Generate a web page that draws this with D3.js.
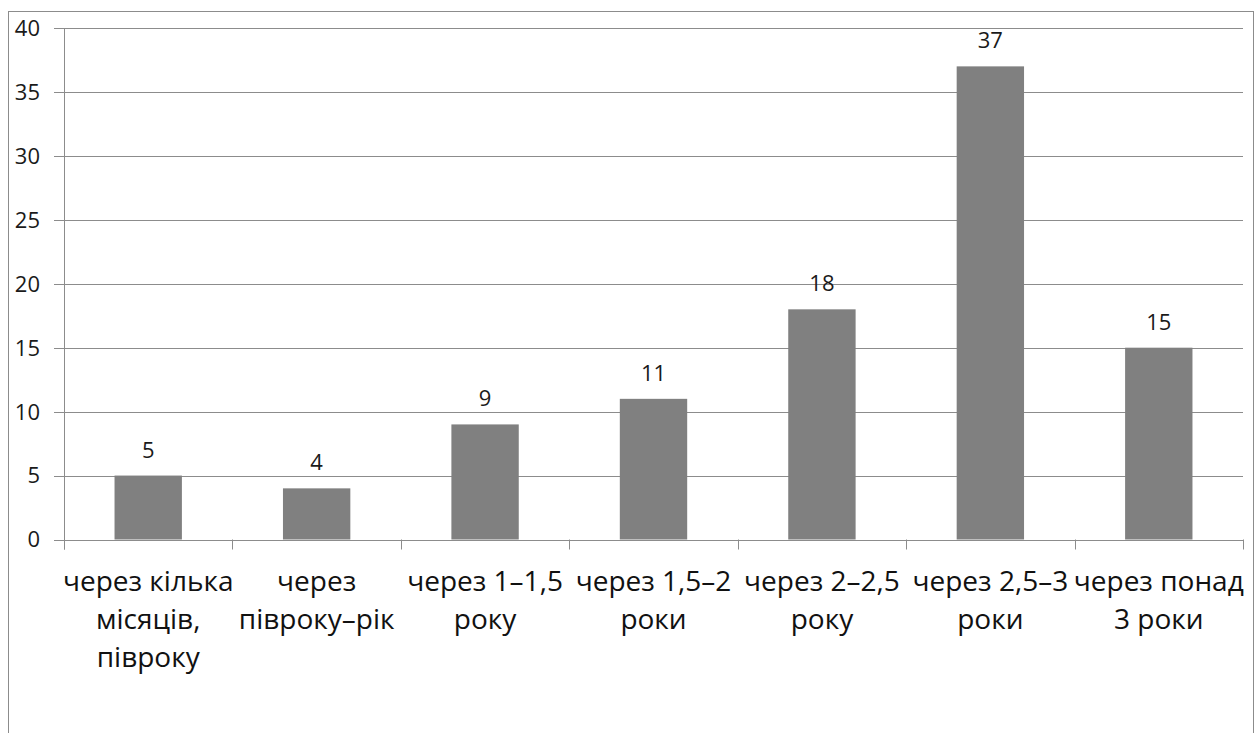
<!DOCTYPE html>
<html><head><meta charset="utf-8">
<script src="https://cdn.jsdelivr.net/npm/d3@7"></script>
<style>body{margin:0;background:#fff}svg{display:block}</style>
</head><body>
<script>
const categories = [
  ["через кілька", "місяців,", "півроку"],
  ["через", "півроку–рік"],
  ["через 1–1,5", "року"],
  ["через 1,5–2", "роки"],
  ["через 2–2,5", "року"],
  ["через 2,5–3", "роки"],
  ["через понад", "3 роки"]
];
const values = [5, 4, 9, 11, 18, 37, 15];
const yTicks = [0, 5, 10, 15, 20, 25, 30, 35, 40];

const W = 1258, H = 733;
const m = {left: 64, right: 15, top: 28, bottom: 193.5};
const font = "'Open Sans', 'DejaVu Sans', sans-serif";

const svg = d3.select("body").append("svg").attr("width", W).attr("height", H);
svg.append("rect").attr("x", 8.5).attr("y", 11.5).attr("width", 1245).attr("height", 740)
  .attr("fill", "#fff").attr("stroke", "#8c8c8c").attr("stroke-width", 1);

const x = d3.scaleBand().domain(d3.range(values.length)).range([m.left, W - m.right]).paddingInner(0.6).paddingOuter(0.3);
const y = d3.scaleLinear().domain([0, 40]).range([H - m.bottom, m.top]);

// gridlines
svg.append("g").selectAll("line").data(yTicks).join("line")
  .attr("x1", m.left - 10).attr("x2", W - m.right)
  .attr("y1", d => Math.round(y(d)) + 0.5).attr("y2", d => Math.round(y(d)) + 0.5)
  .attr("stroke", "#8c8c8c").attr("stroke-width", 1);

// y tick labels
svg.append("g").selectAll("text").data(yTicks).join("text")
  .attr("x", 40).attr("y", d => y(d)).attr("dy", "0.36em").attr("text-anchor", "end")
  .attr("font-family", font).attr("font-size", 22).attr("fill", "#1a1a1a").text(d => d);

// bars
svg.append("g").selectAll("rect").data(values).join("rect")
  .attr("x", (d, i) => x(i)).attr("width", x.bandwidth())
  .attr("y", d => y(d)).attr("height", d => y(0) - y(d)).attr("fill", "#808080");

// y axis line
svg.append("line").attr("x1", m.left + 0.5).attr("x2", m.left + 0.5)
  .attr("y1", m.top).attr("y2", y(0) + 10).attr("stroke", "#8c8c8c");

// category ticks
const step = (W - m.right - m.left) / values.length;
svg.append("g").selectAll("line").data(d3.range(values.length + 1)).join("line")
  .attr("x1", i => Math.round(m.left + i * step) + 0.5).attr("x2", i => Math.round(m.left + i * step) + 0.5)
  .attr("y1", y(0)).attr("y2", y(0) + 10).attr("stroke", "#8c8c8c");

// data labels
svg.append("g").selectAll("text").data(values).join("text")
  .attr("x", (d, i) => x(i) + x.bandwidth() / 2).attr("y", d => y(d) - 18)
  .attr("text-anchor", "middle").attr("font-family", font).attr("font-size", 22).attr("fill", "#1a1a1a")
  .text(d => d);

// category labels
const cg = svg.append("g").selectAll("text").data(categories).join("text")
  .attr("x", (d, i) => x(i) + x.bandwidth() / 2).attr("y", 591)
  .attr("text-anchor", "middle").attr("font-family", font).attr("font-size", 28).attr("fill", "#111");
cg.selectAll("tspan").data(d => d).join("tspan")
  .attr("x", function() { return d3.select(this.parentNode).attr("x"); })
  .attr("dy", (d, j) => j === 0 ? 0 : 38).text(d => d);
</script>
</body></html>
